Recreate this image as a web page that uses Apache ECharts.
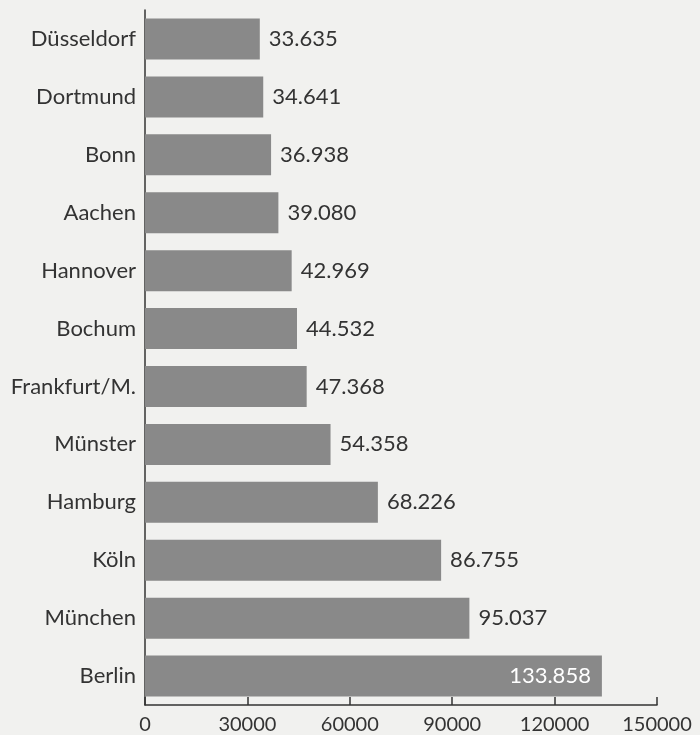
<!DOCTYPE html>
<html><head><meta charset="utf-8">
<script src="https://cdn.jsdelivr.net/npm/echarts@6/dist/echarts.min.js"></script>
<style>html,body{margin:0;padding:0;background:#f1f1ef;}#c{width:700px;height:735px;}</style>
</head><body><div id="c"></div>
<script>
var cities = ["Düsseldorf","Dortmund","Bonn","Aachen","Hannover","Bochum","Frankfurt/M.","Münster","Hamburg","Köln","München","Berlin"];
var values = [33635,34641,36938,39080,42969,44532,47368,54358,68226,86755,95037,133858];
var xTicks = [0,30000,60000,90000,120000,150000];

function fmt(v){return String(v).replace(/\B(?=(\d{3})+(?!\d))/g,'.');}
var font = 'Lato, "Open Sans", sans-serif';
var chart = echarts.init(document.getElementById('c'));
chart.setOption({
  backgroundColor:'#f1f1ef',
  animation:false,
  grid:{left:145,right:43,top:10,bottom:29},
  xAxis:{type:'value',min:xTicks[0],max:xTicks[xTicks.length-1],interval:30000,
    splitLine:{show:false},
    axisLine:{show:true,lineStyle:{color:'#333',width:1.5}},
    axisTick:{show:true,inside:true,length:8,lineStyle:{color:'#333',width:1.5}},
    axisLabel:{color:'#333',fontSize:20,fontFamily:font,margin:10,formatter:function(v){return String(v);}}
  },
  yAxis:{type:'category',data:cities,inverse:true,
    axisLine:{show:true,lineStyle:{color:'#333',width:1.5}},
    axisTick:{show:false},
    axisLabel:{color:'#333',fontSize:22,fontFamily:font,margin:9}
  },
  series:[{type:'bar',barWidth:41,
    data:values.map(function(v,i){
      var last = i===values.length-1;
      return {value:v,label:{position:last?'insideRight':'right',color:last?'#fff':'#333',distance:last?11:9}};
    }),
    itemStyle:{color:'#898989'},
    label:{show:true,fontSize:22,fontFamily:font,formatter:function(p){return fmt(p.value);}}
  }]
});
</script></body></html>
